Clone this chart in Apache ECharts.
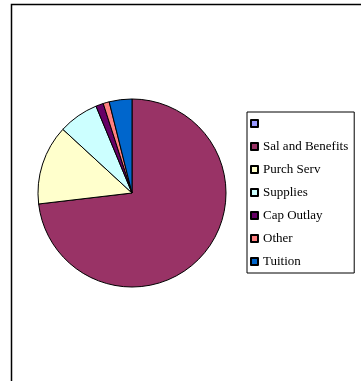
<!DOCTYPE html>
<html>
<head>
<meta charset="utf-8">
<script src="https://cdn.jsdelivr.net/npm/echarts@6/dist/echarts.min.js"></script>
<style>
html,body{margin:0;padding:0;background:#fff;}
#c{width:361px;height:381px;}
</style>
</head>
<body>
<div id="c"></div>
<script>
const categories = [' ', 'Sal and Benefits', 'Purch Serv', 'Supplies', 'Cap Outlay', 'Other', 'Tuition'];
const values = [0, 73.1, 13.7, 6.9, 1.3, 1.05, 3.9];
const colors = ['#9999FF', '#993366', '#FFFFCC', '#CCFFFF', '#660066', '#FF8080', '#0066CC'];

const chart = echarts.init(document.getElementById('c'), null, {renderer: 'canvas'});
chart.setOption({
  animation: false,
  backgroundColor: '#fff',
  graphic: [{
    type: 'rect',
    shape: {x: 11.5, y: 4.5, width: 420, height: 420},
    style: {fill: 'none', stroke: '#000', lineWidth: 1.5},
    silent: true
  }],
  legend: {
    orient: 'vertical',
    left: 247,
    top: 112,
    padding: [5, 6, 5, 3],
    itemWidth: 7,
    itemHeight: 7,
    itemGap: 10,
    itemTextGap: 5,
    icon: 'rect',
    borderColor: '#000',
    borderWidth: 1,
    selectedMode: false,
    data: categories,
    textStyle: {
      fontFamily: 'Liberation Serif',
      fontSize: 13,
      color: '#000',
      lineHeight: 13
    }
  },
  series: [{
    type: 'pie',
    center: [132, 193],
    radius: 94,
    startAngle: 90,
    clockwise: true,
    label: {show: false},
    labelLine: {show: false},
    emphasis: {disabled: true},
    silent: true,
    itemStyle: {borderColor: '#000', borderWidth: 1},
    data: categories.map((n, i) => ({name: n, value: values[i], itemStyle: {color: colors[i]}}))
  }]
});
</script>
</body>
</html>
